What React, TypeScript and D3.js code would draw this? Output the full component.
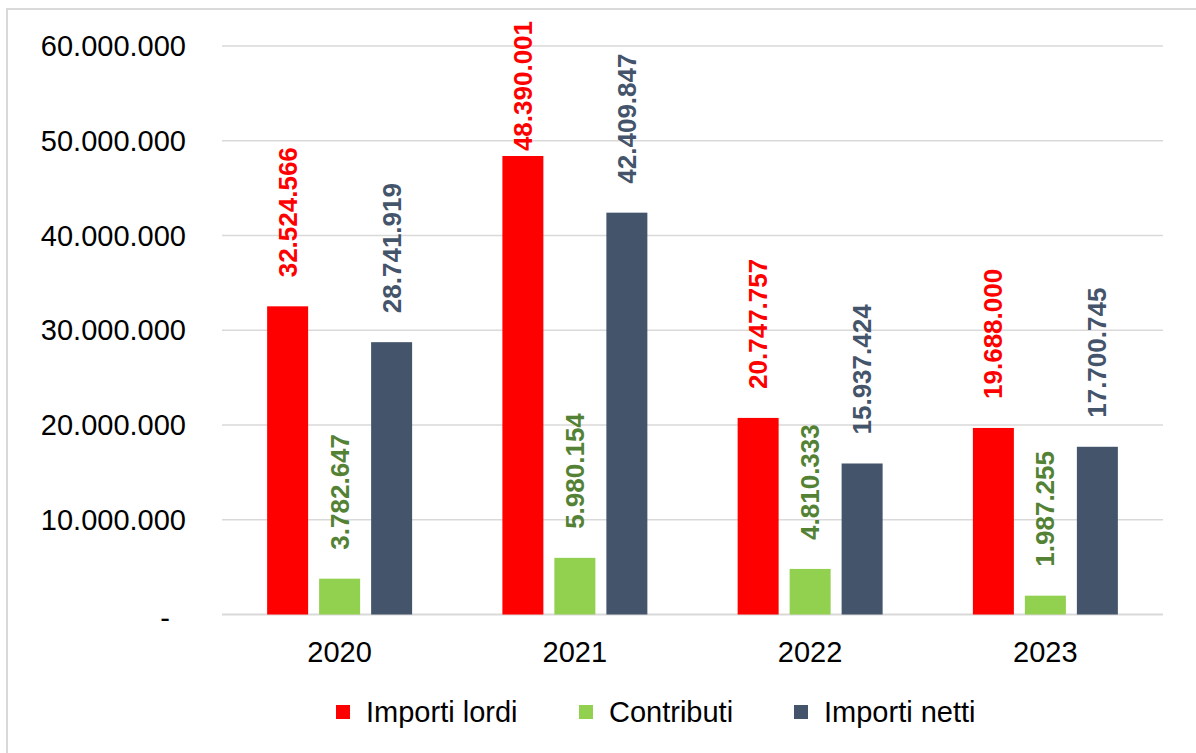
import React from "react";
import * as d3 from "d3";

const years = ["2020", "2021", "2022", "2023"];
const seriesNames = ["Importi lordi", "Contributi", "Importi netti"];
const importiLordi = [32524566, 48390001, 20747757, 19688000];
const contributi = [3782647, 5980154, 4810333, 1987255];
const importiNetti = [28741919, 42409847, 15937424, 17700745];
const yTicks = [0, 10000000, 20000000, 30000000, 40000000, 50000000, 60000000];

const barColors = ["#FF0000", "#92D050", "#44546A"];
const labelColors = ["#FF0000", "#548235", "#44546A"];
const FONT = "'Liberation Sans', Arial, sans-serif";

const W = 1196;
const H = 753;
const left = 222;
const right = 1163;
const top = 46;
const bottom = 614.5;
const labelSize = 26;
const labelTopLimit = 21;

const fmt = (v: number) => {
  if (v === 0) return "-";
  return d3.format(",")(v).replace(/,/g, ".");
};

// rough text length for the bold labels (digits 0.556em, dots 0.278em)
const labelLen = (s: string) =>
  s.split("").reduce((acc, c) => acc + (c === "." ? 0.278 : 0.556), 0) * labelSize;

const App = () => {
  const series = [importiLordi, contributi, importiNetti];

  const x = d3.scaleBand<string>().domain(years).range([left, right]).padding(0);
  const xInner = d3
    .scaleBand<string>()
    .domain(seriesNames)
    .range([0, x.bandwidth()])
    .paddingInner(0.2115)
    .paddingOuter(0.868);
  const y = d3.scaleLinear().domain([0, 60000000]).range([bottom, top]);

  const legendX = [336, 579, 794];
  const legendY = 712;

  return (
    <svg
      width={W}
      height={H}
      style={{ position: "absolute", left: 0, top: 0, background: "#fff" }}
      fontFamily={FONT}
    >
      <rect x={7} y={9} width={W + 10} height={H + 10} fill="#fff" stroke="#D9D9D9" strokeWidth={2} />

      {/* gridlines */}
      {yTicks.map(t => (
        <line
          key={"g" + t}
          x1={left}
          x2={right}
          y1={y(t)}
          y2={y(t)}
          stroke="#D9D9D9"
          strokeWidth={t === 0 ? 2 : 1.5}
        />
      ))}

      {/* y tick labels */}
      {yTicks.map(t => (
        <text
          key={"t" + t}
          x={t === 0 ? 170 : 186}
          y={t === 0 ? y(t) + 3 : y(t)}
          textAnchor="end"
          dominantBaseline="central"
          fontSize={29}
          fill="#000"
        >
          {fmt(t)}
        </text>
      ))}

      {/* bars */}
      {years.map((yr, i) => (
        <g key={yr} transform={`translate(${x(yr)},0)`}>
          {seriesNames.map((s, j) => {
            const v = series[j][i];
            const bx = xInner(s) as number;
            return (
              <rect
                key={s}
                x={bx}
                y={y(v)}
                width={xInner.bandwidth()}
                height={bottom - y(v)}
                fill={barColors[j]}
              />
            );
          })}
          {seriesNames.map((s, j) => {
            const v = series[j][i];
            const txt = fmt(v);
            const cx = (xInner(s) as number) + xInner.bandwidth() / 2;
            const ly = Math.max(y(v) - 29, labelTopLimit + labelLen(txt));
            return (
              <text
                key={"l" + s}
                transform={`translate(${cx},${ly}) rotate(-90)`}
                textAnchor="start"
                dominantBaseline="central"
                fontSize={labelSize}
                fontWeight="bold"
                fill={labelColors[j]}
              >
                {txt}
              </text>
            );
          })}
          <text
            x={x.bandwidth() / 2}
            y={662}
            textAnchor="middle"
            fontSize={29}
            fill="#000"
          >
            {yr}
          </text>
        </g>
      ))}

      {/* legend */}
      {seriesNames.map((s, j) => (
        <g key={"leg" + s} transform={`translate(${legendX[j]},${legendY})`}>
          <rect x={0} y={-7} width={14} height={14} fill={barColors[j]} />
          <text x={30} y={0} dominantBaseline="central" fontSize={29} fill="#000">
            {s}
          </text>
        </g>
      ))}
    </svg>
  );
};

export default App;
